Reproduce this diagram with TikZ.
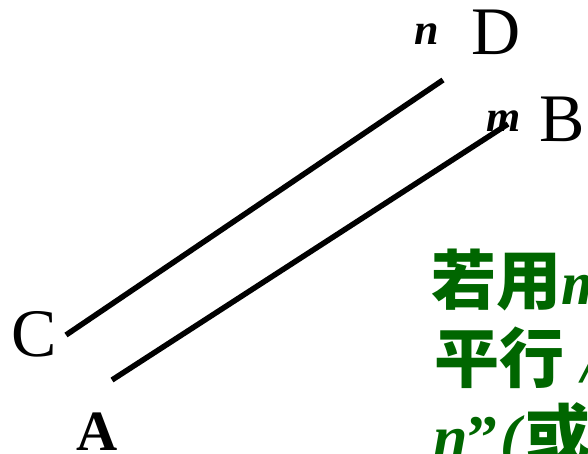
\documentclass[tikz,border=0pt]{standalone}
\usepackage{fontspec}
\setmainfont{Liberation Serif}
\newfontfamily\cjk{Noto Sans CJK SC}
\definecolor{tgreen}{RGB}{0,102,0}
\newcommand{\cj}[1]{{\cjk\bfseries\fontsize{65}{65}\selectfont #1}}
\tikzset{
  seg/.style={line width=5.5pt, black},
  big/.style={inner sep=0pt, anchor=base west, font=\fontsize{68}{68}\selectfont},
  bigbold/.style={inner sep=0pt, anchor=base west, font=\fontsize{57}{57}\selectfont\bfseries},
  sml/.style={inner sep=0pt, anchor=base west, font=\fontsize{44}{44}\selectfont\bfseries\itshape},
  gline/.style={inner sep=0pt, anchor=base west, text=tgreen, font=\fontsize{62}{62}\selectfont\bfseries}
}
\begin{document}
\begin{tikzpicture}[x=1pt, y=-1pt]
\useasboundingbox (0,0) rectangle (588,454);
\clip (0,0) rectangle (588,454);
% line endpoints
\coordinate (c1) at (66,335);
\coordinate (d1) at (443,80);
\coordinate (a1) at (112,380);
\coordinate (b1) at (508,124);
\draw[seg] (c1) -- (d1);
\draw[seg] (a1) -- (b1);
% labels
\node[big] (D) at (471,55) {D};
\node[big] (B) at (539,142) {B};
\node[big] (C) at (11,356) {C};
\node[bigbold] (A) at (76,450) {A};
\node[sml] (n) at (414,45) {n};
\node[sml] (m) at (486,132) {m};
% green text
\node[gline] (t1) at (431,304) {\cj{若用}\textit{m}\cj{、}\textit{n}\cj{表示}};
\node[gline] (t2) at (434,382) {\cj{平行}\hspace{18pt}\textit{//}};
\node[gline] (t3) at (433,458) {\textit{n}”\hspace{2pt}\textit{(}\cj{或}\textit{AB//CD)}};
\end{tikzpicture}
\end{document}
